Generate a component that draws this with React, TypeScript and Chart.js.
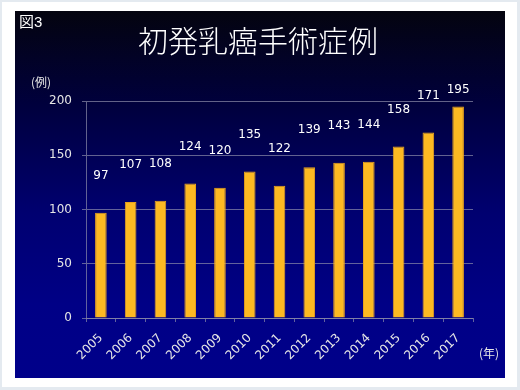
import React, { useEffect, useRef } from "react";
import { Chart, registerables } from "chart.js";

Chart.register(...registerables);

const years = ["2005", "2006", "2007", "2008", "2009", "2010", "2011", "2012", "2013", "2014", "2015", "2016", "2017"];
const cases = [97, 107, 108, 124, 120, 135, 122, 139, 143, 144, 158, 171, 195];
const yTicks = [0, 50, 100, 150, 200];

const figLabel = "図3";
const titleText = "初発乳癌手術症例";
const yUnit = "(例)";
const xUnit = "(年)";

const FONT = "'DejaVu Sans', 'Noto Sans CJK JP', sans-serif";
const CJK = "'Noto Sans CJK JP', 'DejaVu Sans', sans-serif";

const labelsPlugin = {
  id: "valueLabels",
  afterDatasetsDraw(chart: any) {
    const ctx = chart.ctx;
    const area = chart.chartArea;
    const meta = chart.getDatasetMeta(0);
    ctx.save();
    ctx.fillStyle = "#ffffff";
    ctx.font = `12px ${FONT}`;
    ctx.textAlign = "center";
    ctx.textBaseline = "middle";
    meta.data.forEach((bar: any, i: number) => {
      const y = Math.max(bar.y - 37, area.top - 11);
      ctx.fillText(String(cases[i]), bar.x, y);
    });
    ctx.restore();
  },
};

const textPlugin = {
  id: "decorText",
  afterDraw(chart: any) {
    const ctx = chart.ctx;
    const area = chart.chartArea;
    ctx.save();
    ctx.fillStyle = "#ffffff";
    ctx.textBaseline = "middle";
    ctx.textAlign = "left";
    ctx.font = `15px 'Liberation Sans', ${CJK}`;
    ctx.fillText(figLabel, 4, 12);
    ctx.textAlign = "center";
    ctx.font = `300 30px ${CJK}`;
    ctx.fillText(titleText, 243, 30);
    ctx.font = `12px ${CJK}`;
    ctx.fillStyle = "#e6e6e6";
    ctx.fillText(yUnit, 26, area.top - 19);
    ctx.fillText(xUnit, area.right + 16, area.bottom + 35);
    ctx.restore();
  },
};

export default function App() {
  const ref = useRef<HTMLCanvasElement | null>(null);
  useEffect(() => {
    if (!ref.current) return;
    const gridColor = "rgba(140,140,170,0.7)";
    const chart = new Chart(ref.current, {
      type: "bar",
      data: {
        labels: years,
        datasets: [
          {
            data: cases,
            backgroundColor: "#FDB922",
            borderColor: "#E9A21A",
            borderWidth: 1,
            barPercentage: 0.39,
            categoryPercentage: 1,
          },
        ],
      },
      options: {
        responsive: false,
        animation: false,
        devicePixelRatio: 1,
        layout: { padding: { left: 0, right: 32, top: 90, bottom: 0 } },
        plugins: {
          legend: { display: false },
          title: { display: false },
          tooltip: { enabled: false },
        },
        scales: {
          x: {
            offset: true,
            grid: {
              display: true,
              drawOnChartArea: false,
              offset: true,
              tickLength: 4,
              color: gridColor,
            },
            border: { display: true, color: gridColor },
            ticks: {
              color: "#e6e6e6",
              font: { size: 12, family: FONT },
              maxRotation: 45,
              minRotation: 45,
              padding: 9,
              autoSkip: false,
            },
            afterFit: (s: any) => {
              s.height = 60;
            },
          },
          y: {
            min: 0,
            max: 200,
            grid: { color: gridColor, tickLength: 4 },
            border: { display: true, color: gridColor },
            afterBuildTicks: (s: any) => {
              s.ticks = yTicks.map((v) => ({ value: v }));
            },
            ticks: {
              color: "#e6e6e6",
              font: { size: 12, family: FONT },
              padding: 10,
            },
            afterFit: (s: any) => {
              s.width = 71;
            },
          },
        },
      },
      plugins: [labelsPlugin, textPlugin],
    });
    return () => chart.destroy();
  }, []);

  return (
    <div style={{ position: "fixed", left: 0, top: 0, width: 520, height: 390, background: "#e4eaf0" }}>
      <div style={{ position: "absolute", left: 2, top: 2, width: 515, height: 385, background: "#ffffff" }} />
      <div
        style={{
          position: "absolute",
          left: 15,
          top: 11,
          width: 490,
          height: 367,
          background: "linear-gradient(to bottom, #04040f 0%, #00003c 25%, #000070 55%, #000086 80%, #00008a 100%)",
        }}
      >
        <canvas ref={ref} width={490} height={367} style={{ display: "block" }} />
      </div>
    </div>
  );
}
